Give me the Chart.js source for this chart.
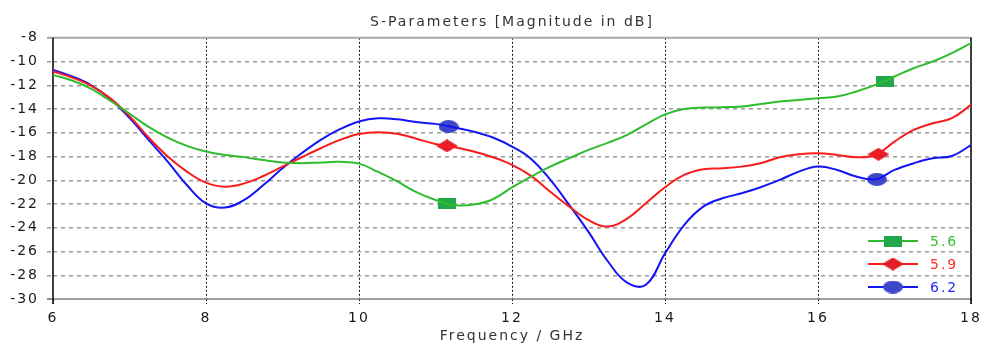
<!DOCTYPE html>
<html>
<head>
<meta charset="utf-8">
<title>S-Parameters</title>
<script src="https://cdn.jsdelivr.net/npm/chart.js@4/dist/chart.umd.min.js"></script>
<style>
  html, body { margin: 0; padding: 0; background: #fff; }
  canvas { display: block; }
</style>
</head>
<body>
<canvas id="chart" width="982" height="345"></canvas>
<script>
// Frequency samples (GHz)
const freq = [6, 6.25, 6.5, 6.75, 7, 7.25, 7.5, 7.75, 8, 8.25, 8.5, 8.75, 9, 9.25, 9.5, 9.75,
    10, 10.25, 10.5, 10.75, 11, 11.25, 11.5, 11.75, 12, 12.25, 12.5, 12.75, 13, 13.25, 13.5, 13.75,
    14, 14.25, 14.5, 14.75, 15, 15.25, 15.5, 15.75, 16, 16.25, 16.5, 16.75, 17, 17.25, 17.5, 17.75, 18];

// S11 magnitude in dB for each parameter value
const s56 = [-11.12, -11.6, -12.3, -13.3, -14.4, -15.5, -16.4, -17.1, -17.58, -17.87, -18.05, -18.3,
    -18.5, -18.56, -18.5, -18.45, -18.6, -19.3, -20.1, -21.0, -21.66, -22.1, -22.05, -21.6, -20.6,
    -19.69, -18.85, -18.14, -17.44, -16.85, -16.2, -15.3, -14.45, -14.0, -13.88, -13.85, -13.78,
    -13.57, -13.37, -13.23, -13.09, -12.95, -12.52, -11.96, -11.26, -10.56, -10.0, -9.29, -8.45];
const s59 = [-10.84, -11.35, -12.05, -13.1, -14.6, -16.4, -18.0, -19.27, -20.2, -20.54, -20.26, -19.64,
    -18.85, -18.06, -17.3, -16.6, -16.1, -15.95, -16.08, -16.5, -16.94, -17.22, -17.58, -18.06, -18.7,
    -19.63, -20.96, -22.22, -23.35, -23.9, -23.25, -21.94, -20.59, -19.55, -19.07, -18.99, -18.85,
    -18.57, -18.06, -17.8, -17.73, -17.87, -18.06, -17.87, -16.74, -15.76, -15.2, -14.77, -13.65];
const s62 = [-10.7, -11.25, -12.0, -13.15, -14.75, -16.6, -18.43, -20.4, -21.94, -22.3, -21.66, -20.4,
    -18.99, -17.73, -16.6, -15.7, -15.05, -14.78, -14.86, -15.1, -15.25, -15.56, -15.9, -16.4, -17.16,
    -18.2, -19.95, -22.1, -24.35, -26.8, -28.6, -28.8, -26.16, -23.77, -22.22, -21.52, -21.1,
    -20.59, -19.97, -19.27, -18.85, -19.13, -19.69, -19.92, -19.13, -18.57, -18.15, -17.96, -17.03];

// marker positions on each curve
const mark56 = { x: [11.15, 16.88], y: [-21.95, -11.68] };
const mark59 = { x: [11.15, 16.79], y: [-17.1, -17.81] };
const mark62 = { x: [11.17, 16.77], y: [-15.48, -19.92] };

const seriesNames = ['5.6', '5.9', '6.2'];
const xTicks = [6, 8, 10, 12, 14, 16, 18];
const yTicks = [-30, -28, -26, -24, -22, -20, -18, -16, -14, -12, -10, -8];

const lineColors = ['#2fbd2f', '#f81c1c', '#1414f4'];
const markColors = ['#20a84a', '#e41e28', '#3c48c8'];
const textColors = ['#33c033', '#ff2a2a', '#2a2aff'];
const FONT = "'DejaVu Sans', Verdana, sans-serif";
const SPACING = '2px';

// small canvases used as point styles (markers are wider than tall)
function makeMarker(shape, w, h, color) {
    const c = document.createElement('canvas');
    c.width = w; c.height = h;
    const g = c.getContext('2d');
    g.fillStyle = color;
    g.beginPath();
    if (shape === 'rect') {
        g.rect(0, 0, w, h);
    } else if (shape === 'diamond') {
        g.moveTo(w / 2, 0); g.lineTo(w, h / 2); g.lineTo(w / 2, h); g.lineTo(0, h / 2);
        g.closePath();
    } else {
        g.ellipse(w / 2, h / 2, w / 2, h / 2, 0, 0, Math.PI * 2);
    }
    g.fill();
    return c;
}
const markers = [
    makeMarker('rect', 18, 11, markColors[0]),
    makeMarker('diamond', 22, 13, markColors[1]),
    makeMarker('circle', 20, 13, markColors[2])
];

const toPoints = (xs, ys) => xs.map((x, i) => ({ x: x, y: ys[i] }));
const curves = [s56, s59, s62];
const marks = [mark56, mark59, mark62];

const datasets = [];
curves.forEach((vals, i) => {
    datasets.push({
        label: seriesNames[i],
        data: toPoints(freq, vals),
        borderColor: lineColors[i],
        borderWidth: 2,
        pointRadius: 0,
        tension: 0.4,
        fill: false
    });
});
marks.forEach((m, i) => {
    datasets.push({
        label: seriesNames[i] + ' marker',
        data: toPoints(m.x, m.y),
        showLine: false,
        pointStyle: markers[i],
        pointRadius: 8,
        pointBackgroundColor: markColors[i],
        pointBorderWidth: 0
    });
});

// the reference text is drawn a little wider, so open up the letters
const spacingPlugin = {
    id: 'spacing',
    beforeUpdate(chart) { chart.ctx.letterSpacing = SPACING; },
    beforeDraw(chart) { chart.ctx.letterSpacing = SPACING; }
};

// plot frame: grey top/bottom, black left/right
const framePlugin = {
    id: 'frame',
    beforeDatasetsDraw(chart) {
        const { ctx, chartArea: a } = chart;
        ctx.save();
        ctx.lineWidth = 2;
        ctx.strokeStyle = '#a8a8a8';
        ctx.beginPath();
        ctx.moveTo(a.left - 6, a.top); ctx.lineTo(a.right + 1, a.top);
        ctx.stroke();
        ctx.lineWidth = 1.5;
        ctx.strokeStyle = '#808080';
        ctx.beginPath();
        ctx.moveTo(a.left - 6, a.bottom); ctx.lineTo(a.right + 1, a.bottom);
        ctx.stroke();
        ctx.strokeStyle = '#000';
        ctx.beginPath();
        ctx.moveTo(a.left, a.top); ctx.lineTo(a.left, a.bottom + 5);
        ctx.moveTo(a.right, a.top); ctx.lineTo(a.right, a.bottom + 5);
        ctx.stroke();
        ctx.restore();
    }
};

// legend: line + marker + coloured label, bottom right inside the plot
const legendPlugin = {
    id: 'curveLegend',
    afterDraw(chart) {
        const { ctx, chartArea: a } = chart;
        ctx.save();
        ctx.font = '14px ' + FONT;
        ctx.textBaseline = 'middle';
        ctx.textAlign = 'left';
        seriesNames.forEach((name, i) => {
            const y = a.bottom - 58 + i * 23;
            const x0 = a.right - 103;
            ctx.strokeStyle = lineColors[i];
            ctx.lineWidth = 2;
            ctx.beginPath();
            ctx.moveTo(x0, y); ctx.lineTo(x0 + 50, y);
            ctx.stroke();
            const m = markers[i];
            ctx.drawImage(m, x0 + 25 - m.width / 2, y - m.height / 2);
            ctx.fillStyle = textColors[i];
            ctx.fillText(name, x0 + 62, y + 1);
        });
        ctx.restore();
    }
};

new Chart(document.getElementById('chart'), {
    type: 'line',
    data: { datasets: datasets },
    options: {
        responsive: false,
        animation: false,
        devicePixelRatio: 1,
        layout: { padding: { left: 0, right: 11, top: 0, bottom: 0 } },
        plugins: {
            legend: { display: false },
            tooltip: { enabled: false },
            title: {
                display: true,
                fullSize: false,
                text: 'S-Parameters [Magnitude in dB]',
                color: '#333',
                font: { family: FONT, size: 14, weight: 'normal' },
                padding: { top: 14, bottom: 7 }
            }
        },
        scales: {
            x: {
                type: 'linear',
                min: 6,
                max: 18,
                afterBuildTicks: s => { s.ticks = xTicks.map(v => ({ value: v })); },
                afterFit: s => { s.height = 46; s.paddingLeft = 0; s.paddingRight = 0; },
                ticks: {
                    color: '#1a1a1a',
                    font: { family: FONT, size: 14 },
                    padding: 6,
                    maxRotation: 0
                },
                grid: {
                    color: c => (c.tick && (c.tick.value === 6 || c.tick.value === 18)) ? 'rgba(0,0,0,0)' : '#111',
                    lineWidth: 1,
                    tickLength: 5,
                    tickColor: '#111',
                    tickBorderDash: [2, 2]
                },
                border: { display: false, dash: [2, 2] },
                title: {
                    display: true,
                    text: 'Frequency / GHz',
                    color: '#333',
                    font: { family: FONT, size: 14 },
                    padding: { top: 0, bottom: 0 }
                }
            },
            y: {
                min: -30,
                max: -8,
                afterBuildTicks: s => { s.ticks = yTicks.map(v => ({ value: v })); },
                afterFit: s => { s.width = 53; s.paddingTop = 0; s.paddingBottom = 0; },
                ticks: {
                    color: '#1a1a1a',
                    font: { family: FONT, size: 14 },
                    padding: 8
                },
                grid: {
                    color: c => (c.tick && (c.tick.value === -8 || c.tick.value === -30)) ? 'rgba(0,0,0,0)' : '#9a9a9a',
                    lineWidth: 1.5,
                    tickLength: 6,
                    tickColor: '#9a9a9a',
                    tickBorderDash: [4, 4]
                },
                border: { display: false, dash: [4, 4] }
            }
        }
    },
    plugins: [spacingPlugin, framePlugin, legendPlugin]
});
</script>
</body>
</html>
